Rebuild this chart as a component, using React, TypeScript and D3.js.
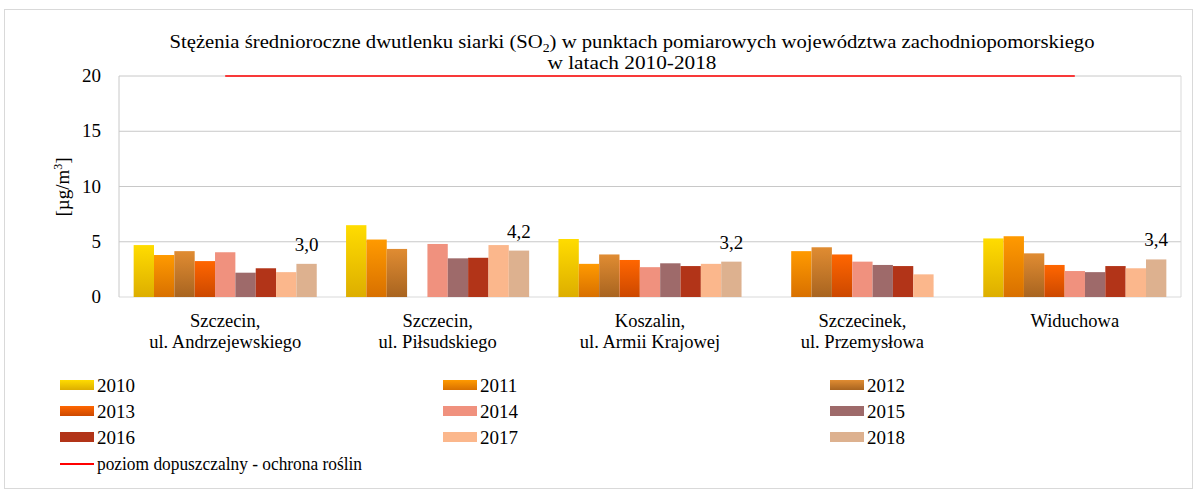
import React from "react";
import * as d3 from "d3";

const categories = [
  ["Szczecin,", "ul. Andrzejewskiego"],
  ["Szczecin,", "ul. Piłsudskiego"],
  ["Koszalin,", "ul. Armii Krajowej"],
  ["Szczecinek,", "ul. Przemysłowa"],
  ["Widuchowa"],
];
const years = ["2010", "2011", "2012", "2013", "2014", "2015", "2016", "2017", "2018"];
// values[category] for each year
const v2010 = [4.7, 6.5, 5.25, null, 5.3];
const v2011 = [3.8, 5.2, 3.0, 4.15, 5.5];
const v2012 = [4.15, 4.35, 3.85, 4.5, 3.95];
const v2013 = [3.25, null, 3.35, 3.85, 2.9];
const v2014 = [4.05, 4.8, 2.7, 3.2, 2.35];
const v2015 = [2.2, 3.5, 3.05, 2.9, 2.25];
const v2016 = [2.6, 3.55, 2.8, 2.8, 2.8];
const v2017 = [2.25, 4.7, 3.0, 2.05, 2.6];
const v2018 = [3.0, 4.2, 3.2, null, 3.4];
const series = [v2010, v2011, v2012, v2013, v2014, v2015, v2016, v2017, v2018];
const labels2018 = ["3,0", "4,2", "3,2", "", "3,4"];
const limitValue = 20;
const yTicks = [0, 5, 10, 15, 20];
const colorsTop = ["#FFDC00", "#FF9A00", "#E08C32", "#FF6600", "#F0917E", "#9E6A6A", "#B23418", "#FBB78C", "#DDB18F"];
const colorsBottom = ["#DDAE00", "#D87000", "#A86420", "#CC4800", "#F0917E", "#9E6A6A", "#B23418", "#FBB78C", "#DDB18F"];
const title1 = "Stężenia średnioroczne dwutlenku siarki (SO";
const title1b = ") w punktach pomiarowych województwa zachodniopomorskiego";
const title2 = "w latach 2010-2018";
const limitLabel = "poziom dopuszczalny - ochrona roślin";

const W = 1197;
const H = 489;
const left = 119;
const right = 1181;
const top = 76;
const bottom = 297;
const FONT = "'Liberation Serif', 'Times New Roman', Times, 'DejaVu Serif', serif";
const ts = (size: number): React.CSSProperties => ({ fontFamily: FONT, fontSize: size + "px" });

export default function App() {
  const x = d3.scaleBand<number>().domain(d3.range(categories.length)).range([left, right]).paddingInner(0.138).paddingOuter(0.069);
  const xi = d3.scaleBand<number>().domain(d3.range(years.length)).range([0, x.bandwidth()]);
  const y = d3.scaleLinear().domain([0, 20]).range([bottom, top]);
  const cx = (i: number) => (x(i) as number) + x.bandwidth() / 2;

  const legendCols = [60, 443, 830];
  const legendRows = [386, 412, 438, 464];

  return (
    <svg width={W} height={H} style={{ display: "block", position: "absolute", left: 0, top: 0, fontFamily: FONT }}>
      <defs>
        {years.map((yr, k) => (
          <linearGradient key={yr} id={`g${k}`} x1="0" y1="0" x2="0" y2="1">
            <stop offset="0" stopColor={colorsTop[k]} />
            <stop offset="1" stopColor={colorsBottom[k]} />
          </linearGradient>
        ))}
      </defs>
      <rect x={0} y={0} width={W} height={H} fill="#fff" />
      <rect x={4.5} y={9.5} width={1188} height={479} fill="none" stroke="#d9d9d9" />
      {/* title */}
      <text x={632} y={48} textAnchor="middle" style={ts(18)} fill="#000" textLength={925} lengthAdjust="spacingAndGlyphs">
        {title1}
        <tspan style={{ fontSize: "12px" }} dy={4}>2</tspan>
        <tspan dy={-4}>{title1b}</tspan>
      </text>
      <text x={632} y={69} textAnchor="middle" style={ts(18)} fill="#000" textLength={169} lengthAdjust="spacingAndGlyphs">{title2}</text>
      {/* gridlines */}
      {yTicks.map((t) => (
        <line key={t} x1={left} x2={right} y1={y(t)} y2={y(t)} stroke={t === 0 ? "#d9d9d9" : "#c8c8c8"} />
      ))}
      <line x1={left} x2={left} y1={top} y2={bottom} stroke="#c8c8c8" />
      <line x1={right} x2={right} y1={top} y2={bottom} stroke="#d9d9d9" />
      {yTicks.map((t) => (
        <text key={"t" + t} x={101} y={y(t) + 6} textAnchor="end" style={ts(19)} fill="#000">{t}</text>
      ))}
      <text transform={`translate(69,187) rotate(-90)`} textAnchor="middle" style={ts(19)} fill="#000">
        [µg/m<tspan style={{ fontSize: "12px" }} dy={-7}>3</tspan><tspan dy={7}>]</tspan>
      </text>
      {/* bars */}
      {categories.map((c, i) => (
        <g key={i}>
          {series.map((s, k) => {
            const v = s[i];
            if (v == null) return null;
            const bx = (x(i) as number) + (xi(k) as number);
            return <rect key={k} x={bx} y={y(v)} width={xi.bandwidth()} height={y(0) - y(v)} fill={`url(#g${k})`} />;
          })}
          {labels2018[i] && v2018[i] != null && (
            <text x={(x(i) as number) + (xi(8) as number) + xi.bandwidth() / 2} y={y(v2018[i] as number) - 13} textAnchor="middle" style={ts(19)} fill="#000">
              {labels2018[i]}
            </text>
          )}
        </g>
      ))}
      {/* limit line */}
      <line x1={cx(0)} x2={cx(categories.length - 1)} y1={y(limitValue)} y2={y(limitValue)} stroke="#FF0000" strokeWidth={1.5} />
      {/* category labels */}
      {categories.map((c, i) => (
        <text key={"c" + i} x={cx(i)} textAnchor="middle" style={ts(18.5)} fill="#000">
          {c.map((line, j) => (
            <tspan key={j} x={cx(i)} y={327 + j * 21}>{line}</tspan>
          ))}
        </text>
      ))}
      {/* legend */}
      {years.map((yr, k) => {
        const lx = legendCols[k % 3];
        const ly = legendRows[Math.floor(k / 3)];
        return (
          <g key={"leg" + yr}>
            <rect x={lx} y={ly - 6} width={34} height={10} fill={`url(#g${k})`} />
            <text x={lx + 37} y={ly + 6} style={ts(19)} fill="#000">{yr}</text>
          </g>
        );
      })}
      <line x1={legendCols[0]} x2={legendCols[0] + 34} y1={legendRows[3]} y2={legendRows[3]} stroke="#FF0000" strokeWidth={2} />
      <text x={legendCols[0] + 37} y={legendRows[3] + 6} style={ts(18)} fill="#000" textLength={265} lengthAdjust="spacingAndGlyphs">{limitLabel}</text>
    </svg>
  );
}
